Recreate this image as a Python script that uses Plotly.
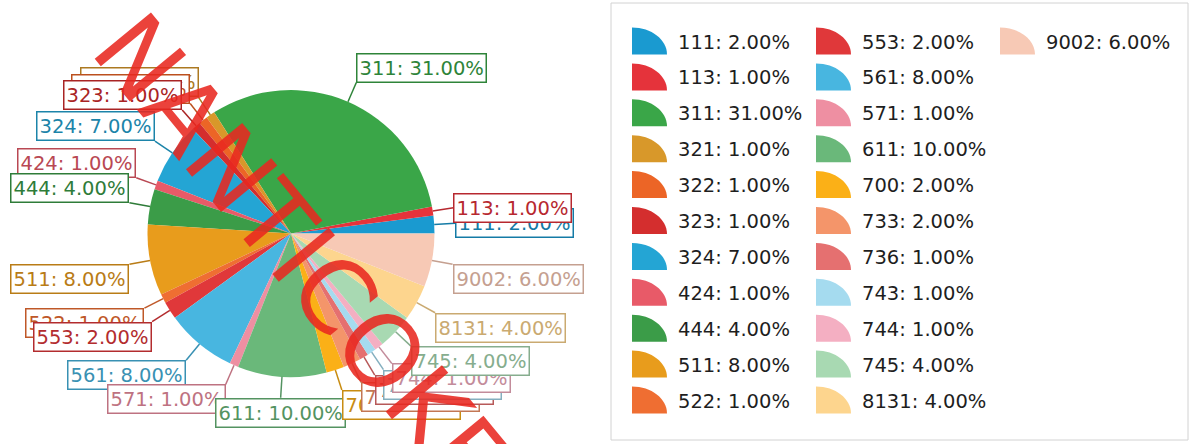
import math
import plotly.graph_objects as go

# ---- data ----
codes = ["111", "113", "311", "321", "322", "323", "324", "424", "444", "511", "522",
         "553", "561", "571", "611", "700", "733", "736", "743", "744", "745", "8131", "9002"]
shares = [2, 1, 31, 1, 1, 1, 7, 1, 4, 8, 1, 2, 8, 1, 10, 2, 2, 1, 1, 1, 4, 4, 6]
colors = ["#1a9ad0", "#e5333b", "#3aa648", "#d8982a", "#ec6526", "#d42e2e", "#24a5d4",
          "#e85a68", "#3b9c48", "#e89c1c", "#ef6e32", "#e0383a", "#48b6e0", "#ee8fa2",
          "#6ab87a", "#fbb017", "#f4956a", "#e57070", "#a5dbef", "#f4afc2", "#a8d9b2",
          "#fdd58e", "#f7c9b5"]
stamp_text = "NANTICOKE"

# ---- layout constants ----
W, H = 1191, 444
CX, CY, R = 291, 233.5, 143.5
RL = 21
FONT = "DejaVu Sans"


def px(x):
    return x / W


def py(y):
    return 1 - y / H


def darker(hexc, f=0.8):
    h = hexc.lstrip("#")
    r, g, b = (int(h[i:i + 2], 16) for i in (0, 2, 4))
    return "rgb(%d,%d,%d)" % (r * f, g * f, b * f)


total = float(sum(shares))
label_texts = [f"{c}: {v / total * 100:.2f}%" for c, v in zip(codes, shares)]

fig = go.Figure()
fig.add_trace(go.Pie(
    labels=label_texts, values=shares, sort=False, direction="counterclockwise",
    rotation=90 - 360 * shares[0] / total,
    marker=dict(colors=colors, line=dict(width=0)),
    textinfo="none", hoverinfo="label", showlegend=False,
    domain=dict(x=[px(CX - R), px(CX + R)], y=[py(CY + R), py(CY - R)]),
))

shapes = []
annotations = []

# outside labels with leader lines
cum = 0.0
for txt, v, col in zip(label_texts, shares, colors):
    mid = (cum + v / 2) / total * 2 * math.pi
    cum += v
    ca, sa = math.cos(mid), math.sin(mid)
    ex, ey = CX + R * ca, CY - R * sa
    ax, ay = CX + (R + RL) * ca, CY - (R + RL) * sa
    xa = "left" if ca > 0.15 else ("right" if ca < -0.15 else "center")
    ya = "bottom" if sa > 0.17 else ("top" if sa < -0.17 else "middle")
    dc = darker(col)
    shapes.append(dict(type="line", xref="paper", yref="paper",
                       x0=px(ex), y0=py(ey), x1=px(ax), y1=py(ay),
                       line=dict(color=dc, width=1.5)))
    annotations.append(dict(text=txt, x=px(ax), y=py(ay), xref="paper", yref="paper",
                            xanchor=xa, yanchor=ya, showarrow=False,
                            font=dict(family=FONT, size=19.5, color=dc),
                            bgcolor="white", bordercolor=dc, borderwidth=1.5, borderpad=2))

# legend frame
shapes.append(dict(type="rect", xref="paper", yref="paper",
                   x0=px(611), y0=py(440), x1=px(1188), y1=py(3),
                   line=dict(color="#d2d2d2", width=1)))

# legend entries (column-major, 11 rows)
ROWS = 11
K = 0.5523
for i, (txt, col) in enumerate(zip(label_texts, colors)):
    c, r = divmod(i, ROWS)
    x0 = 632 + c * 184
    cy = 41 + r * 35.9
    rx, ry = 35, 27
    yb, yt = cy + ry / 2, cy - ry / 2
    path = (f"M {px(x0)},{py(yb)} L {px(x0)},{py(yt)} "
            f"C {px(x0 + K * rx)},{py(yt)} {px(x0 + rx)},{py(yb - K * ry)} {px(x0 + rx)},{py(yb)} Z")
    shapes.append(dict(type="path", xref="paper", yref="paper", path=path,
                       fillcolor=col, line=dict(width=0)))
    annotations.append(dict(text=txt, x=px(x0 + 44), y=py(cy + 1), xref="paper", yref="paper",
                            xanchor="left", yanchor="middle", showarrow=False,
                            font=dict(family=FONT, size=19.5, color="#1e1e1e")))

# stamp
annotations.append(dict(text=stamp_text, x=px(302), y=py(255), xref="paper", yref="paper",
                        xanchor="center", yanchor="middle", showarrow=False, textangle=50.5,
                        font=dict(family=FONT, size=100, color="rgba(232,40,32,0.88)")))

fig.update_layout(width=W, height=H, margin=dict(l=0, r=0, t=0, b=0),
                  paper_bgcolor="white", plot_bgcolor="white",
                  shapes=shapes, annotations=annotations, showlegend=False)

fig.write_html("out.html", config={"displayModeBar": False},
               post_script="document.body.style.margin='0';")
